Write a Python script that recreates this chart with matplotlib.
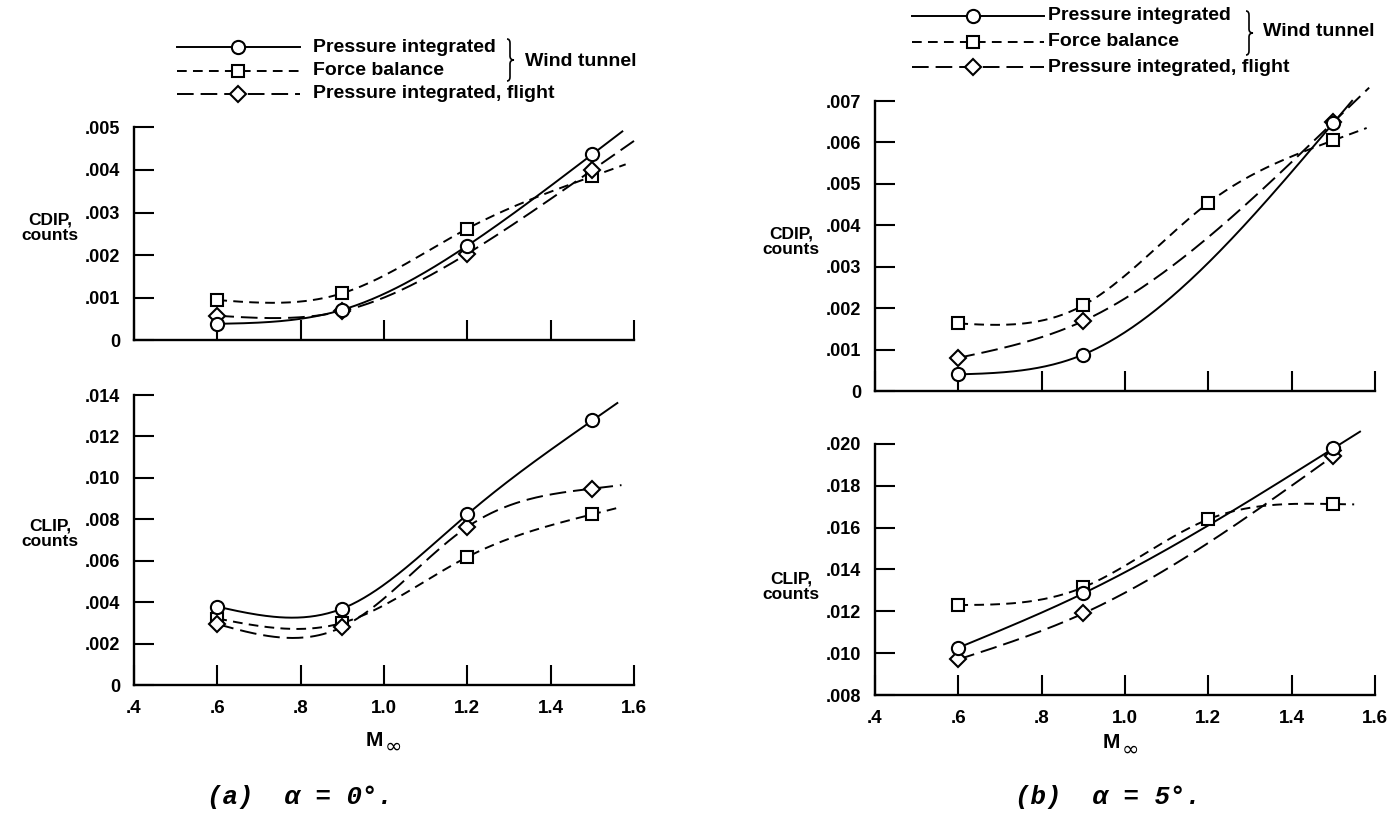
import numpy as np
import matplotlib
matplotlib.use('Agg')
import matplotlib.pyplot as plt
from matplotlib.lines import Line2D
from matplotlib.path import Path
from matplotlib.patches import PathPatch

plt.rcParams['font.family'] = ['Liberation Sans', 'DejaVu Sans']
plt.rcParams['font.weight'] = 'bold'
plt.rcParams['lines.scale_dashes'] = False

W, H = 1390, 816

# ---------------- data ----------------
mach4 = [0.6, 0.9, 1.2, 1.5]
mach3 = [0.6, 0.9, 1.5]

# (a) alpha = 0 deg
cdip_a_press = [0.00038, 0.00071, 0.00222, 0.00437]
cdip_a_force = [0.00094, 0.00110, 0.00262, 0.00385]
cdip_a_flight = [0.00057, 0.00068, 0.00203, 0.00400]
clip_a_press = [0.00378, 0.00369, 0.00824, 0.01277]
clip_a_force = [0.00321, 0.00300, 0.00618, 0.00824]
clip_a_flight = [0.00294, 0.00280, 0.00763, 0.00948]

# (b) alpha = 5 deg
cdip_b_press = [0.00040, 0.00088, 0.00647]
cdip_b_force = [0.00163, 0.00207, 0.00454, 0.00605]
cdip_b_flight = [0.00080, 0.00169, 0.00649]
clip_b_press = [0.01026, 0.01286, 0.01979]
clip_b_force = [0.01230, 0.01315, 0.01640, 0.01713]
clip_b_flight = [0.00970, 0.01190, 0.01943]

# faired-curve end Mach numbers (press, force, flight)
end_cdip_a = [1.572, 1.58, 1.60]
end_clip_a = [1.56, 1.566, 1.57]
end_cdip_b = [1.545, 1.58, 1.586]
end_clip_b = [1.564, 1.55, 1.52]

x_ticks = [0.4, 0.6, 0.8, 1.0, 1.2, 1.4, 1.6]
x_labels = ['.4', '.6', '.8', '1.0', '1.2', '1.4', '1.6']
cdip_a_ticks = [0, 0.001, 0.002, 0.003, 0.004, 0.005]
cdip_a_labels = ['0', '.001', '.002', '.003', '.004', '.005']
clip_a_ticks = [0, 0.002, 0.004, 0.006, 0.008, 0.010, 0.012, 0.014]
clip_a_labels = ['0', '.002', '.004', '.006', '.008', '.010', '.012', '.014']
cdip_b_ticks = [0, 0.001, 0.002, 0.003, 0.004, 0.005, 0.006, 0.007]
cdip_b_labels = ['0', '.001', '.002', '.003', '.004', '.005', '.006', '.007']
clip_b_ticks = [0.008, 0.010, 0.012, 0.014, 0.016, 0.018, 0.020]
clip_b_labels = ['.008', '.010', '.012', '.014', '.016', '.018', '.020']

legend_labels = ['Pressure integrated', 'Force balance', 'Pressure integrated, flight']
group_label = 'Wind tunnel'
cdip_label = 'CDIP,\ncounts'
clip_label = 'CLIP,\ncounts'
xlabel_main = 'M'
xlabel_sub = '\u221e'
captions = ['(a)  \u03b1 = 0\u00b0.', '(b)  \u03b1 = 5\u00b0.']

# ---------------- helpers ----------------
def natural_spline(x, y, xq):
    x = np.asarray(x, float)
    y = np.asarray(y, float)
    xq = np.asarray(xq, float)
    n = len(x)
    h = np.diff(x)
    d = np.diff(y) / h
    A = np.zeros((n, n))
    b = np.zeros(n)
    A[0, 0] = 1
    A[-1, -1] = 1
    for i in range(1, n - 1):
        A[i, i - 1] = h[i - 1]
        A[i, i] = 2 * (h[i - 1] + h[i])
        A[i, i + 1] = h[i]
        b[i] = 6 * (d[i] - d[i - 1])
    M = np.linalg.solve(A, b)
    out = np.empty_like(xq)
    for k, xv in enumerate(xq):
        if xv > x[-1]:
            slope = d[-1] + h[-1] / 6 * (M[-2] + 2 * M[-1])
            out[k] = y[-1] + slope * (xv - x[-1])
        else:
            i = int(np.clip(np.searchsorted(x, xv) - 1, 0, n - 2))
            t0 = x[i + 1] - xv
            t1 = xv - x[i]
            hi = h[i]
            out[k] = (M[i] * t0 ** 3 / (6 * hi) + M[i + 1] * t1 ** 3 / (6 * hi)
                      + (y[i] / hi - M[i] * hi / 6) * t0
                      + (y[i + 1] / hi - M[i + 1] * hi / 6) * t1)
    return out

STY = {
    'press': dict(dashes=None, marker='o', ms=9.5),
    'force': dict(dashes=(7, 4.5), marker='s', ms=9),
    'flight': dict(dashes=(12, 5), marker='D', ms=8.3),
}
LW = 1.4
MEW = 1.5

def draw_series(ax, xs, ys, xend, key):
    s = STY[key]
    xq = np.linspace(xs[0], xend, 200)
    yq = natural_spline(xs, ys, xq)
    line, = ax.plot(xq, yq, color='black', lw=LW, clip_on=False, zorder=2)
    if s['dashes'] is not None:
        line.set_dashes(s['dashes'])
    ax.plot(xs, ys, linestyle='none', marker=s['marker'], ms=s['ms'],
            mfc='white', mec='black', mew=MEW, clip_on=False, zorder=3)

def style_axes(ax, ylim, yticks, ylabels, show_x):
    ax.set_xlim(0.4, 1.6)
    ax.set_ylim(*ylim)
    ax.spines['top'].set_visible(False)
    ax.spines['right'].set_visible(False)
    for sp in ('left', 'bottom'):
        ax.spines[sp].set_linewidth(1.7)
    ax.set_xticks(x_ticks)
    ax.set_yticks(yticks)
    ax.set_yticklabels(ylabels)
    if show_x:
        ax.set_xticklabels(x_labels)
    else:
        ax.set_xticklabels([])
    ax.tick_params(axis='both', direction='in', length=14.5, width=1.5)
    ax.tick_params(axis='y', pad=10, labelsize=13)
    ax.tick_params(axis='x', pad=10.5, labelsize=13.5)
    for t in ax.get_xticklabels() + ax.get_yticklabels():
        t.set_fontweight('bold')

def fx(x):
    return x / W

def fy(y):
    return 1 - y / H

fig = plt.figure(figsize=(13.9, 8.16), dpi=100)

def add_axes(l, r, t, b):
    return fig.add_axes([fx(l), fy(b), fx(r) - fx(l), fy(t) - fy(b)])

ax1 = add_axes(134, 634, 127.5, 340)   # CDIP a
ax2 = add_axes(134, 634, 395, 685)     # CLIP a
ax3 = add_axes(875, 1375, 101, 391)    # CDIP b
ax4 = add_axes(875, 1375, 444, 695)    # CLIP b

style_axes(ax1, (0, 0.005), cdip_a_ticks, cdip_a_labels, False)
style_axes(ax2, (0, 0.014), clip_a_ticks, clip_a_labels, True)
style_axes(ax3, (0, 0.007), cdip_b_ticks, cdip_b_labels, False)
style_axes(ax4, (0.008, 0.020), clip_b_ticks, clip_b_labels, True)

draw_series(ax1, mach4, cdip_a_force, end_cdip_a[1], 'force')
draw_series(ax1, mach4, cdip_a_flight, end_cdip_a[2], 'flight')
draw_series(ax1, mach4, cdip_a_press, end_cdip_a[0], 'press')

draw_series(ax2, mach4, clip_a_force, end_clip_a[1], 'force')
draw_series(ax2, mach4, clip_a_flight, end_clip_a[2], 'flight')
draw_series(ax2, mach4, clip_a_press, end_clip_a[0], 'press')

draw_series(ax3, mach4, cdip_b_force, end_cdip_b[1], 'force')
draw_series(ax3, mach3, cdip_b_flight, end_cdip_b[2], 'flight')
draw_series(ax3, mach3, cdip_b_press, end_cdip_b[0], 'press')

draw_series(ax4, mach4, clip_b_force, end_clip_b[1], 'force')
draw_series(ax4, mach3, clip_b_flight, end_clip_b[2], 'flight')
draw_series(ax4, mach3, clip_b_press, end_clip_b[0], 'press')

# y labels
for (x, y, txt) in [(50, 228, cdip_label), (50, 534, clip_label),
                    (791, 242, cdip_label), (791, 587, clip_label)]:
    fig.text(fx(x), fy(y), txt, ha='center', va='center', fontsize=12.5,
             fontweight='bold', linespacing=1.05)

# x labels  (M with infinity subscript)
for (x, y) in [(384, 740), (1121, 743)]:
    fig.text(fx(x - 1), fy(y), xlabel_main, ha='right', va='center',
             fontsize=15, fontweight='bold')
    fig.text(fx(x + 1), fy(y + 7), xlabel_sub, ha='left', va='center',
             fontsize=15, fontweight='normal', family='DejaVu Sans')

# captions
fig.text(fx(207), fy(797), captions[0], ha='left', va='center', fontsize=18.5,
         family='Liberation Mono', style='italic', fontweight='bold')
fig.text(fx(1015), fy(797), captions[1], ha='left', va='center', fontsize=18.5,
         family='Liberation Mono', style='italic', fontweight='bold')

# legends
def legend_block(x0, x1, xm, xt, ys, brace_x, brace_top, brace_bot, gx, gy):
    keys = ['press', 'force', 'flight']
    for key, y, lab in zip(keys, ys, legend_labels):
        s = STY[key]
        ln = Line2D([fx(x0), fx(x1)], [fy(y), fy(y)], transform=fig.transFigure,
                    color='black', lw=LW)
        if s['dashes'] is not None:
            ln.set_dashes(s['dashes'])
        fig.add_artist(ln)
        mk = Line2D([fx(xm)], [fy(y)], transform=fig.transFigure, linestyle='none',
                    marker=s['marker'], ms=s['ms'], mfc='white', mec='black', mew=MEW)
        fig.add_artist(mk)
        fig.text(fx(xt), fy(y), lab, ha='left', va='center', fontsize=14,
                 fontweight='bold')
    # brace
    mid = (brace_top + brace_bot) / 2
    bx = brace_x
    pts = [(bx - 3, brace_top), (bx, brace_top), (bx, brace_top + 4),
           (bx, mid - 4), (bx, mid), (bx + 4, mid),
           (bx, mid), (bx, mid + 4),
           (bx, brace_bot - 4), (bx, brace_bot), (bx - 3, brace_bot)]
    codes = [Path.MOVETO, Path.CURVE3, Path.CURVE3,
             Path.LINETO, Path.CURVE3, Path.CURVE3,
             Path.CURVE3, Path.CURVE3,
             Path.LINETO, Path.CURVE3, Path.CURVE3]
    verts = [(fx(a), fy(b)) for a, b in pts]
    fig.add_artist(PathPatch(Path(verts, codes), transform=fig.transFigure,
                             fill=False, lw=1.2, edgecolor='black'))
    fig.text(fx(gx), fy(gy), group_label, ha='left', va='center', fontsize=14,
             fontweight='bold')

legend_block(177, 300, 238, 313, [47, 70.5, 94], 510, 39, 81, 525, 62)
legend_block(912, 1044, 973, 1048, [16, 42, 67], 1249, 11, 55, 1263, 32)

fig.savefig('out.png', dpi=100, facecolor='white')
